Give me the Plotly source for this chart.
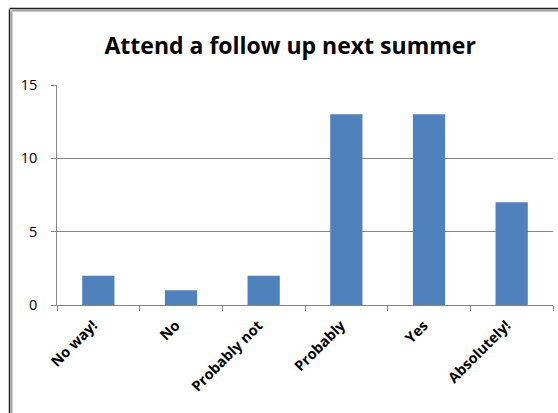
import plotly.graph_objects as go

categories = ["No way!", "No", "Probably not", "Probably", "Yes", "Absolutely!"]
counts = [2, 1, 2, 13, 13, 7]
y_ticks = [0, 5, 10, 15]
title_text = "Attend a follow up next summer"

W, H = 558, 413
L, R, T, B = 57, 5, 85, 108
pw, ph = W - L - R, H - T - B

def px_x(px):
    return (px - L) / pw

def px_y(py):
    return (H - B - py) / ph

fig = go.Figure(go.Bar(x=categories, y=counts, marker=dict(color="#4F81BD", line=dict(width=0))))

fig.update_layout(
    width=W, height=H,
    margin=dict(l=L, r=R, t=T, b=B),
    paper_bgcolor="white", plot_bgcolor="white",
    bargap=0.61,
    showlegend=False,
    title=dict(text="<b>" + title_text + "</b>", x=0.52, xanchor="center", y=1 - 46 / H, yanchor="middle",
               font=dict(family="Open Sans", size=23, color="#000000")),
    font=dict(family="Open Sans", color="#000000"),
)
fig.update_xaxes(
    tickangle=-45, tickfont=dict(size=14.5, family="Open Sans", color="#000"),
    showline=True, linecolor="#868686", linewidth=1,
    ticks="outside", ticklen=5, tickcolor="#868686", tickson="boundaries",
    showgrid=False,
    tickprefix="<b>", ticksuffix="&nbsp;&nbsp;</b>",
)
fig.update_yaxes(
    range=[0, 15], tickmode="array", tickvals=y_ticks,
    ticktext=[str(v) + "\u2007\u2009" for v in y_ticks],
    tickfont=dict(size=14.5, family="Open Sans", color="#000"),
    showline=True, linecolor="#868686", linewidth=1,
    ticks="outside", ticklen=5, tickcolor="#868686",
    showgrid=True, gridcolor="#868686", gridwidth=1, zeroline=False,
)

# outer sheet border (chart object frame)
shapes = []
for xpx, col, wd in [(9.5, "#202020", 1.5), (11.5, "#A0A0A0", 2)]:
    shapes.append(dict(type="line", xref="paper", yref="paper",
                       x0=px_x(xpx), x1=px_x(xpx), y0=px_y(xpx), y1=px_y(H + 5),
                       line=dict(color=col, width=wd)))
    shapes.append(dict(type="line", xref="paper", yref="paper",
                       x0=px_x(xpx), x1=px_x(W + 5), y0=px_y(xpx - 1), y1=px_y(xpx - 1),
                       line=dict(color=col, width=wd)))
fig.update_layout(shapes=shapes)

fig.write_html("out.html")
